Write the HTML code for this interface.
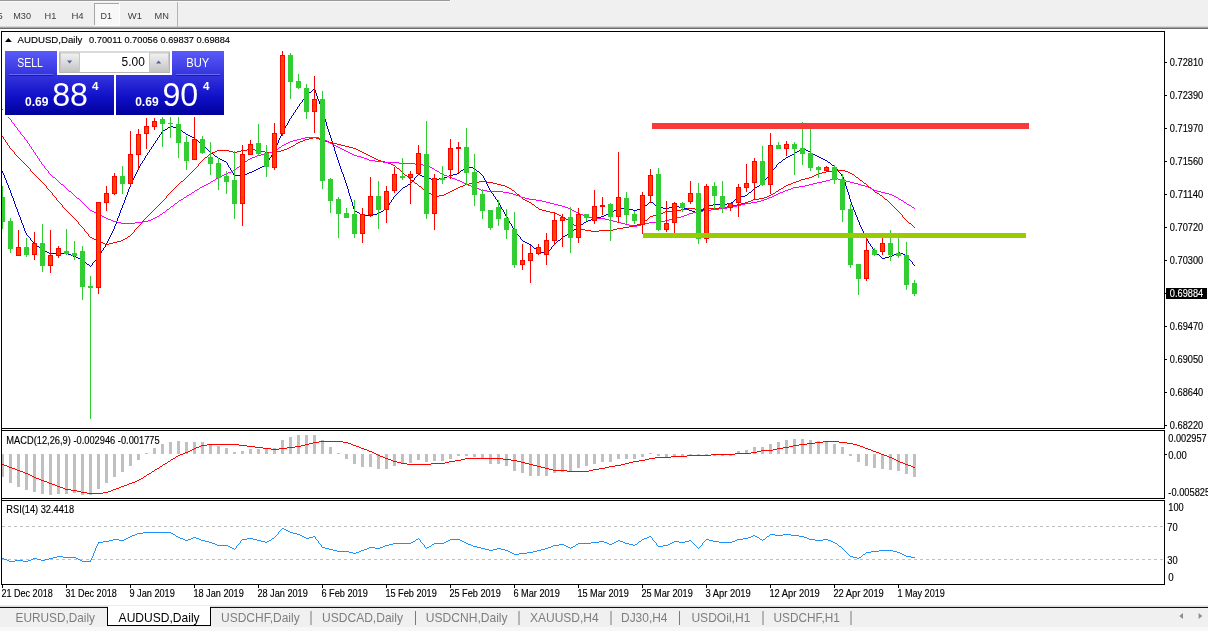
<!DOCTYPE html><html><head><meta charset="utf-8"><title>AUDUSD,Daily</title>
<style>
html,body{margin:0;padding:0;background:#fff;}
body{width:1208px;height:631px;overflow:hidden;position:relative;font-family:"Liberation Sans",sans-serif;}
svg{position:absolute;left:0;top:0;display:block}
text{font-family:"Liberation Sans",sans-serif;}
.ax{font-size:10.2px;fill:#000;stroke:#000;stroke-width:0.15px}
.tb{font-size:9.9px;fill:#3c3c3c}
.tab{font-size:12.6px;fill:#7e7e7e}
</style></head><body>
<svg width="1208" height="631" viewBox="0 0 1208 631">
<rect x="0" y="0" width="1208" height="631" fill="#ffffff"/>
<rect x="0" y="0" width="1208" height="27" fill="#f0f0f0"/>
<rect x="0" y="0" width="450" height="1" fill="#9a9a9a"/><rect x="0" y="1" width="451" height="1" fill="#fafafa"/><rect x="450" y="0" width="1" height="1" fill="#fafafa"/>
<rect x="0" y="26" width="1208" height="1" fill="#d6d6d6"/>
<rect x="0" y="27" width="1208" height="1" fill="#a4a4a4"/>
<rect x="0" y="28" width="1208" height="1" fill="#6c6c6c"/>
<rect x="94" y="3" width="26" height="23" fill="#f8f8f8"/>
<rect x="94" y="3" width="25" height="1" fill="#a6a6a6"/><rect x="94" y="3" width="1" height="22" fill="#a6a6a6"/>
<rect x="119" y="3" width="1" height="23" fill="#fff"/><rect x="94" y="25" width="26" height="1" fill="#fff"/>
<rect x="177" y="2" width="1" height="25" fill="#b4b4b4"/>
<text class="tb" x="-2.6" y="18.7" textLength="5.2" lengthAdjust="spacingAndGlyphs">5</text>
<text class="tb" x="13.3" y="18.7" textLength="17.7" lengthAdjust="spacingAndGlyphs">M30</text>
<text class="tb" x="44.5" y="18.7" textLength="11.8" lengthAdjust="spacingAndGlyphs">H1</text>
<text class="tb" x="71.4" y="18.7" textLength="12.3" lengthAdjust="spacingAndGlyphs">H4</text>
<text class="tb" x="100.4" y="18.7" textLength="11.5" lengthAdjust="spacingAndGlyphs">D1</text>
<text class="tb" x="127.8" y="18.7" textLength="14.2" lengthAdjust="spacingAndGlyphs">W1</text>
<text class="tb" x="154.6" y="18.7" textLength="14.4" lengthAdjust="spacingAndGlyphs">MN</text>
<path d="M2.5 171v2M3.5 173v2M4.5 175v3M5.5 178v2M6.5 180v3M7.5 183v2M8.5 185v3M9.5 188v2M10.5 190v2M10.5 192v1M11.5 193v3M12.5 196v2M13.5 198v3M14.5 201v3M15.5 204v3M16.5 207v2M17.5 209v3M18.5 212v2M18.5 214v1M19.5 215v2M20.5 217v3M21.5 220v3M22.5 223v2M23.5 225v3M24.5 228v3M25.5 231v2M26.5 233v2M27.5 235v1M28.5 236v1M29.5 237v1M30.5 238v2M31.5 240v1M32.5 241v1M33.5 242v1M34.5 243v1M35 244.5h1M36 245.5h1M37 246.5h2M39 247.5h1M40 248.5h1M41 249.5h1M42 250.5h1M43 250.5h1M44 251.5h3M47 252.5h2M49 253.5h2M51 253.5h8M59 253.5h8M67 253.5h1M68 254.5h3M71 255.5h2M73 256.5h2M75 256.5h1M76 257.5h2M78 258.5h2M80 259.5h2M82 260.5h1M83 261.5h2M85 262.5h1M86 263.5h1M87 264.5h2M89 265.5h1M90 266.5h1M91.5 265v1M92.5 263v2M93.5 262v1M94.5 261v1M95.5 260v1M96.5 258v2M97.5 257v1M98.5 256v1M99.5 254v2M100.5 253v1M101.5 251v2M102.5 250v1M103.5 248v2M104.5 247v1M105.5 245v2M106.5 244v1M106.5 243v1M107.5 241v2M108.5 239v2M109.5 237v2M110.5 235v2M111.5 233v2M112.5 231v2M113.5 229v2M114.5 227v2M114.5 226v1M115.5 224v2M116.5 221v3M117.5 218v3M118.5 216v2M119.5 213v3M120.5 210v3M121.5 208v2M122.5 206v2M122.5 205v1M123.5 203v2M124.5 200v3M125.5 197v3M126.5 195v2M127.5 192v3M128.5 189v3M129.5 187v2M130.5 185v2M130.5 184v1M131.5 182v2M132.5 180v2M133.5 178v2M134.5 176v2M135.5 174v2M136.5 172v2M137.5 170v2M138.5 168v2M139.5 166v2M140.5 164v2M141.5 163v1M142.5 161v2M143.5 160v1M144.5 158v2M145.5 156v2M146.5 155v1M147.5 153v2M148.5 152v1M149.5 150v2M150.5 149v1M151.5 147v2M152.5 146v1M153.5 144v2M154.5 143v1M155.5 141v2M156.5 140v1M157.5 138v2M158.5 137v1M159.5 135v2M160.5 134v1M161.5 132v2M162.5 131v1M170 126.5h1M168 127.5h2M167 128.5h1M165 129.5h2M163 130.5h2M171 126.5h2M173 127.5h4M177 128.5h2M179 129.5h2M181 130.5h1M182 131.5h1M183 132.5h2M185 133.5h1M186 134.5h1M187 134.5h1M188 135.5h2M190 136.5h2M192 137.5h2M194 138.5h1M195 139.5h2M197 140.5h1M198 141.5h1M199 142.5h2M201 143.5h1M202 144.5h1M203 145.5h1M204 146.5h1M205 147.5h1M206 148.5h1M207 149.5h1M208 150.5h1M209 151.5h1M210 152.5h1M211 153.5h2M213 154.5h1M214 155.5h1M215 156.5h2M217 157.5h1M218 158.5h1M219 158.5h1M220 159.5h2M222 160.5h2M224 161.5h2M226 162.5h1M227.5 163v2M228.5 165v2M229.5 167v1M230.5 168v2M231.5 170v1M232.5 171v2M233.5 173v2M234.5 175v1M235 175.5h8M249 172.5h2M247 173.5h2M244 174.5h3M243 175.5h1M258 168.5h1M256 169.5h2M254 170.5h2M252 171.5h2M251 172.5h1M266 164.5h1M264 165.5h2M262 166.5h2M260 167.5h2M259 168.5h1M267.5 162v2M268.5 160v2M269.5 158v2M270.5 157v1M271.5 155v2M272.5 153v2M273.5 151v2M274.5 150v1M274.5 149v1M275.5 147v2M276.5 145v2M277.5 143v2M278.5 140v3M279.5 138v2M280.5 136v2M281.5 134v2M282.5 132v2M283.5 130v2M284.5 128v2M285.5 126v2M286.5 125v1M287.5 123v2M288.5 121v2M289.5 119v2M290.5 118v1M291.5 116v2M292.5 115v1M293.5 113v2M294.5 112v1M295.5 110v2M296.5 109v1M297.5 107v2M298.5 106v1M299.5 104v2M300.5 103v1M301.5 102v1M302.5 100v2M303.5 99v1M304.5 98v1M305.5 96v2M306.5 95v1M314 88.5h1M313 89.5h1M312 90.5h1M311 91.5h1M309 92.5h2M308 93.5h1M307 94.5h1M314.5 89v1M315.5 90v3M316.5 93v3M317.5 96v3M318.5 99v2M319.5 101v3M320.5 104v3M321.5 107v3M322.5 110v2M322.5 112v1M323.5 113v3M324.5 116v3M325.5 119v3M326.5 122v4M327.5 126v3M328.5 129v3M329.5 132v3M330.5 135v2M330.5 137v1M331.5 138v3M332.5 141v3M333.5 144v3M334.5 147v4M335.5 151v3M336.5 154v3M337.5 157v3M338.5 160v2M338.5 162v1M339.5 163v3M340.5 166v3M341.5 169v3M342.5 172v2M343.5 174v3M344.5 177v3M345.5 180v3M346.5 183v2M346.5 185v1M347.5 186v3M348.5 189v4M349.5 193v3M350.5 196v3M351.5 199v3M352.5 202v4M353.5 206v3M354.5 209v2M355 211.5h2M357 212.5h2M359 213.5h1M360 214.5h2M362 215.5h1M363 215.5h8M377 213.5h2M373 214.5h4M371 215.5h2M386 208.5h1M384 209.5h2M383 210.5h1M381 211.5h2M379 212.5h2M387.5 206v2M388.5 205v1M389.5 203v2M390.5 202v1M391.5 200v2M392.5 199v1M393.5 197v2M394.5 196v1M402 188.5h1M401 189.5h1M400 190.5h1M399 191.5h1M398 192.5h1M397 193.5h1M396 194.5h1M395 195.5h1M410 183.5h1M408 184.5h2M407 185.5h1M405 186.5h2M403 187.5h2M411.5 182v1M412.5 181v1M413.5 180v1M414.5 178v2M415.5 177v1M416.5 176v1M417.5 175v1M418.5 174v1M419 174.5h1M420 175.5h2M422 176.5h2M424 177.5h2M426 178.5h1M427 178.5h4M431 179.5h4M439 178.5h4M435 179.5h4M449 175.5h2M447 176.5h2M444 177.5h3M443 178.5h1M457 173.5h2M453 174.5h4M451 175.5h2M466 166.5h1M465 167.5h1M464 168.5h1M463 169.5h1M461 170.5h2M460 171.5h1M459 172.5h1M467 166.5h2M469 167.5h4M473 168.5h2M475 169.5h1M476 170.5h1M477 171.5h2M479 172.5h1M480 173.5h1M481 174.5h1M482 175.5h1M483.5 176v2M484.5 178v2M485.5 180v2M486.5 182v2M487.5 184v2M488.5 186v2M489.5 188v2M490.5 190v1M491.5 191v2M492.5 193v1M493.5 194v2M494.5 196v1M495.5 197v2M496.5 199v1M497.5 200v2M498.5 202v1M499.5 203v2M500.5 205v2M501.5 207v2M502.5 209v1M503.5 210v2M504.5 212v2M505.5 214v2M506.5 216v1M507.5 217v2M508.5 219v2M509.5 221v2M510.5 223v1M511.5 224v2M512.5 226v2M513.5 228v2M514.5 230v1M515.5 231v1M516.5 232v2M517.5 234v1M518.5 235v1M519.5 236v1M520.5 237v2M521.5 239v1M522.5 240v1M523 241.5h2M525 242.5h2M527 243.5h2M529 244.5h2M531 245.5h1M532 246.5h1M533 247.5h1M534 248.5h2M536 249.5h1M537 250.5h1M538 251.5h1M539 252.5h1M540 252.5h8M548.5 251v1M549.5 250v1M550.5 249v1M551.5 247v2M552.5 246v1M553.5 245v1M554.5 244v1M555.5 243v1M563 236.5h1M562 237.5h1M561 238.5h1M560 239.5h1M558 240.5h2M557 241.5h1M556 242.5h1M571 232.5h1M569 233.5h2M567 234.5h2M565 235.5h2M564 236.5h1M578 226.5h1M577 227.5h1M576 228.5h1M574 229.5h2M573 230.5h1M572 231.5h1M586 221.5h1M584 222.5h2M583 223.5h1M581 224.5h2M579 225.5h2M593 218.5h2M591 219.5h2M588 220.5h3M587 221.5h1M601 216.5h2M597 217.5h4M595 218.5h2M610 212.5h1M608 213.5h2M606 214.5h2M604 215.5h2M603 216.5h1M618 208.5h1M616 209.5h2M614 210.5h2M612 211.5h2M611 212.5h1M619 208.5h8M627 208.5h2M629 209.5h4M633 210.5h2M641 208.5h2M637 209.5h4M635 210.5h2M650 201.5h1M649 202.5h1M648 203.5h1M647 204.5h1M645 205.5h2M644 206.5h1M643 207.5h1M651 202.5h2M653 203.5h1M654 204.5h1M655 205.5h2M657 206.5h1M658 207.5h1M659 207.5h4M663 208.5h4M673 206.5h2M669 207.5h4M667 208.5h2M675 206.5h4M679 207.5h4M683 207.5h1M684 208.5h3M687 209.5h2M689 210.5h2M691 210.5h1M692 211.5h3M695 212.5h2M697 213.5h2M706 206.5h1M705 207.5h1M704 208.5h1M703 209.5h1M701 210.5h2M700 211.5h1M699 212.5h1M713 204.5h2M709 205.5h4M707 206.5h2M715 204.5h8M727 203.5h4M723 204.5h4M738 197.5h1M737 198.5h1M735 199.5h2M734 200.5h1M733 201.5h1M731 202.5h2M745 195.5h2M741 196.5h4M739 197.5h2M754 188.5h1M753 189.5h1M752 190.5h1M751 191.5h1M749 192.5h2M748 193.5h1M747 194.5h1M762 183.5h1M760 184.5h2M759 185.5h1M757 186.5h2M755 187.5h2M763.5 182v1M764.5 180v2M765.5 179v1M766.5 178v1M767.5 177v1M768.5 175v2M769.5 174v1M770.5 173v1M771.5 172v1M772.5 170v2M773.5 169v1M774.5 168v1M775.5 167v1M776.5 165v2M777.5 164v1M778.5 163v1M786 157.5h1M785 158.5h1M783 159.5h2M782 160.5h1M781 161.5h1M779 162.5h2M794 153.5h1M792 154.5h2M790 155.5h2M788 156.5h2M787 157.5h1M802 148.5h1M800 149.5h2M799 150.5h1M797 151.5h2M795 152.5h2M803 148.5h1M804 149.5h2M806 150.5h2M808 151.5h2M810 152.5h1M811 153.5h2M813 154.5h2M815 155.5h2M817 156.5h2M819 157.5h1M820 157.5h1M821 158.5h2M823 159.5h2M825 160.5h2M827 161.5h1M828 162.5h2M830 163.5h1M831 164.5h1M832 165.5h2M834 166.5h1M835 167.5h1M836.5 168v1M837.5 169v2M838.5 171v1M839.5 172v1M840.5 173v1M841.5 174v2M842.5 176v1M843.5 177v1M843.5 178v1M844.5 179v3M845.5 182v4M846.5 186v3M847.5 189v3M848.5 192v3M849.5 195v4M850.5 199v3M851.5 202v2M851.5 204v1M852.5 205v2M853.5 207v3M854.5 210v2M855.5 212v3M856.5 215v2M857.5 217v3M858.5 220v2M859.5 222v2M859.5 224v1M860.5 225v2M861.5 227v2M862.5 229v2M863.5 231v2M864.5 233v2M865.5 235v2M866.5 237v2M867.5 239v2M868.5 241v2M869.5 243v1M870.5 244v2M871.5 246v1M872.5 247v2M873.5 249v2M874.5 251v1M875 252.5h1M876 253.5h1M877 254.5h2M879 255.5h1M880 256.5h1M881 257.5h1M882 258.5h1M889 256.5h2M885 257.5h4M883 258.5h2M898 252.5h1M896 253.5h2M894 254.5h2M892 255.5h2M891 256.5h1M899 252.5h1M900 253.5h3M903 254.5h2M905 255.5h2M907.5 256v1M908.5 257v2M909.5 259v1M910.5 260v1M911.5 261v1M912.5 262v2M913.5 264v1M914.5 265v1" fill="none" stroke="#0000cd" stroke-width="1" shape-rendering="crispEdges"/>
<path d="M2.5 136v1M3.5 137v2M4.5 139v1M5.5 140v2M6.5 142v1M7.5 143v2M8.5 145v1M9.5 146v2M10.5 148v1M11.5 149v1M12.5 150v1M13.5 151v1M14.5 152v2M15.5 154v1M16.5 155v1M17.5 156v1M18.5 157v1M19 158.5h1M20 159.5h1M21 160.5h1M22 161.5h1M23 162.5h1M24 163.5h1M25 164.5h1M26 165.5h1M27.5 166v1M28.5 167v1M29.5 168v1M30.5 169v2M31.5 171v1M32.5 172v1M33.5 173v1M34.5 174v1M35 175.5h1M36 176.5h1M37 177.5h1M38 178.5h1M39 179.5h1M40 180.5h1M41 181.5h1M42 182.5h1M43.5 183v1M44.5 184v1M45.5 185v1M46.5 186v2M47.5 188v1M48.5 189v1M49.5 190v1M50.5 191v1M51.5 192v1M52.5 193v2M53.5 195v1M54.5 196v1M55.5 197v1M56.5 198v2M57.5 200v1M58.5 201v1M59.5 202v1M60.5 203v1M61.5 204v1M62.5 205v2M63.5 207v1M64.5 208v1M65.5 209v1M66.5 210v1M67 211.5h1M68 212.5h1M69 213.5h1M70 214.5h1M71 215.5h1M72 216.5h1M73 217.5h1M74 218.5h1M75.5 219v1M76.5 220v1M77.5 221v1M78.5 222v2M79.5 224v1M80.5 225v1M81.5 226v1M82.5 227v1M83.5 228v1M84.5 229v2M85.5 231v1M86.5 232v1M87.5 233v1M88.5 234v2M89.5 236v1M90.5 237v1M91 237.5h1M92 238.5h2M94 239.5h2M96 240.5h2M98 241.5h1M99 241.5h1M100 242.5h3M103 243.5h2M105 244.5h2M113 242.5h2M109 243.5h4M107 244.5h2M121 240.5h2M117 241.5h4M115 242.5h2M130 235.5h1M128 236.5h2M127 237.5h1M125 238.5h2M123 239.5h2M131.5 234v1M132.5 233v1M133.5 232v1M134.5 230v2M135.5 229v1M136.5 228v1M137.5 227v1M138.5 226v1M139.5 225v1M140.5 224v1M141.5 223v1M142.5 221v2M143.5 220v1M144.5 219v1M145.5 218v1M146.5 217v1M154 209.5h1M153 210.5h1M152 211.5h1M151 212.5h1M150 213.5h1M149 214.5h1M148 215.5h1M147 216.5h1M162 201.5h1M161 202.5h1M160 203.5h1M159 204.5h1M158 205.5h1M157 206.5h1M156 207.5h1M155 208.5h1M163.5 200v1M164.5 199v1M165.5 198v1M166.5 196v2M167.5 195v1M168.5 194v1M169.5 193v1M170.5 192v1M178 184.5h1M177 185.5h1M176 186.5h1M175 187.5h1M174 188.5h1M173 189.5h1M172 190.5h1M171 191.5h1M186 177.5h1M185 178.5h1M184 179.5h1M183 180.5h1M181 181.5h2M180 182.5h1M179 183.5h1M194 169.5h1M193 170.5h1M192 171.5h1M191 172.5h1M190 173.5h1M189 174.5h1M188 175.5h1M187 176.5h1M195.5 168v1M196.5 167v1M197.5 166v1M198.5 164v2M199.5 163v1M200.5 162v1M201.5 161v1M202.5 160v1M210 153.5h1M209 154.5h1M208 155.5h1M207 156.5h1M205 157.5h2M204 158.5h1M203 159.5h1M217 150.5h2M215 151.5h2M212 152.5h3M211 153.5h1M219 150.5h8M227 150.5h2M229 151.5h4M233 152.5h2M241 150.5h2M237 151.5h4M235 152.5h2M247 149.5h4M243 150.5h4M251 149.5h4M255 150.5h4M259 150.5h2M261 151.5h4M265 152.5h2M267 152.5h8M281 150.5h2M277 151.5h4M275 152.5h2M289 147.5h2M287 148.5h2M284 149.5h3M283 150.5h1M298 142.5h1M296 143.5h2M295 144.5h1M293 145.5h2M291 146.5h2M305 139.5h2M303 140.5h2M300 141.5h3M299 142.5h1M313 137.5h2M309 138.5h4M307 139.5h2M315 137.5h1M316 138.5h3M319 139.5h2M321 140.5h2M323 140.5h2M325 141.5h4M329 142.5h2M331 142.5h2M333 143.5h4M337 144.5h2M339 144.5h2M341 145.5h4M345 146.5h2M347 146.5h2M349 147.5h4M353 148.5h2M355 148.5h1M356 149.5h2M358 150.5h2M360 151.5h2M362 152.5h1M363 152.5h1M364 153.5h2M366 154.5h2M368 155.5h2M370 156.5h1M371 156.5h1M372 157.5h2M374 158.5h2M376 159.5h2M378 160.5h1M379 160.5h2M381 161.5h4M385 162.5h2M387 162.5h1M388 163.5h3M391 164.5h2M393 165.5h2M395 166.5h1M396 167.5h1M397 168.5h2M399 169.5h1M400 170.5h1M401 171.5h1M402 172.5h1M403 173.5h1M404 174.5h1M405 175.5h2M407 176.5h1M408 177.5h1M409 178.5h1M410 179.5h1M411 180.5h2M413 181.5h1M414 182.5h1M415 183.5h2M417 184.5h1M418 185.5h1M419 186.5h2M421 187.5h1M422 188.5h1M423 189.5h2M425 190.5h1M426 191.5h1M427 192.5h2M429 193.5h2M431 194.5h1M432 195.5h2M434 196.5h1M439 195.5h4M435 196.5h4M450 191.5h1M448 192.5h2M446 193.5h2M444 194.5h2M443 195.5h1M458 187.5h1M456 188.5h2M454 189.5h2M452 190.5h2M451 191.5h1M465 184.5h2M463 185.5h2M460 186.5h3M459 187.5h1M473 182.5h2M469 183.5h4M467 184.5h2M479 181.5h4M475 182.5h4M483 181.5h4M487 182.5h4M491 182.5h2M493 183.5h4M497 184.5h2M499 184.5h2M501 185.5h4M505 186.5h2M507 187.5h2M509 188.5h2M511 189.5h1M512 190.5h2M514 191.5h1M515 192.5h1M516 193.5h1M517 194.5h2M519 195.5h1M520 196.5h1M521 197.5h1M522 198.5h1M523 199.5h2M525 200.5h2M527 201.5h2M529 202.5h2M531 203.5h1M532 204.5h2M534 205.5h1M535 206.5h1M536 207.5h2M538 208.5h1M539 209.5h1M540 209.5h2M542 210.5h4M546 211.5h2M548 211.5h2M550 212.5h4M554 213.5h2M556 213.5h1M557 214.5h2M559 215.5h2M561 216.5h2M563 217.5h1M564 218.5h2M566 219.5h2M568 220.5h1M569 221.5h2M571 222.5h1M572 223.5h1M573 224.5h1M574 225.5h2M576 226.5h1M577 227.5h1M578 228.5h1M579 228.5h2M581 229.5h4M585 230.5h2M587 230.5h4M591 231.5h4M599 230.5h4M595 231.5h4M603 230.5h8M617 228.5h2M613 229.5h4M611 230.5h2M623 227.5h4M619 228.5h4M633 225.5h2M629 226.5h4M627 227.5h2M641 223.5h2M637 224.5h4M635 225.5h2M650 216.5h1M649 217.5h1M648 218.5h1M647 219.5h1M645 220.5h2M644 221.5h1M643 222.5h1M657 214.5h2M653 215.5h4M651 216.5h2M665 211.5h2M663 212.5h2M660 213.5h3M659 214.5h1M667 211.5h8M681 209.5h2M677 210.5h4M675 211.5h2M687 208.5h4M683 209.5h4M691 208.5h4M695 209.5h4M703 208.5h4M699 209.5h4M707 208.5h8M719 207.5h4M715 208.5h4M727 206.5h4M723 207.5h4M737 204.5h2M733 205.5h4M731 206.5h2M745 202.5h2M741 203.5h4M739 204.5h2M753 199.5h2M751 200.5h2M748 201.5h3M747 202.5h1M759 198.5h4M755 199.5h4M769 195.5h2M767 196.5h2M764 197.5h3M763 198.5h1M778 190.5h1M776 191.5h2M775 192.5h1M773 193.5h2M771 194.5h2M786 185.5h1M784 186.5h2M783 187.5h1M781 188.5h2M779 189.5h2M793 182.5h2M791 183.5h2M788 184.5h3M787 185.5h1M801 179.5h2M799 180.5h2M796 181.5h3M795 182.5h1M809 177.5h2M805 178.5h4M803 179.5h2M818 173.5h2M816 174.5h2M814 175.5h2M812 176.5h2M811 177.5h1M826 171.5h2M822 172.5h4M820 173.5h2M832 170.5h4M828 171.5h4M836 170.5h8M844 170.5h1M845 171.5h3M848 172.5h2M850 173.5h2M852 174.5h2M854 175.5h1M855 176.5h1M856 177.5h2M858 178.5h1M859 179.5h1M860 180.5h2M862 181.5h1M863 182.5h1M864 183.5h2M866 184.5h1M867 185.5h1M868 186.5h1M869 187.5h2M871 188.5h1M872 189.5h1M873 190.5h1M874 191.5h1M875 192.5h2M877 193.5h2M879 194.5h1M880 195.5h2M882 196.5h1M883 197.5h1M884 198.5h1M885 199.5h2M887 200.5h1M888 201.5h1M889 202.5h1M890 203.5h1M891 204.5h1M892 205.5h1M893 206.5h1M894 207.5h1M895 208.5h1M896 209.5h1M897 210.5h1M898 211.5h1M899.5 212v1M900.5 213v1M901.5 214v1M902.5 215v2M903.5 217v1M904.5 218v1M905.5 219v1M906.5 220v1M907 221.5h1M908 222.5h1M909 223.5h2M911 224.5h1M912 225.5h1M913 226.5h1M914 227.5h1" fill="none" stroke="#ff0000" stroke-width="1" shape-rendering="crispEdges"/>
<path d="M2.5 109v1M3.5 110v1M4.5 111v2M5.5 113v1M6.5 114v1M7.5 115v1M8.5 116v2M9.5 118v1M10.5 119v1M11.5 120v2M12.5 122v1M13.5 123v1M14.5 124v2M15.5 126v1M16.5 127v1M17.5 128v2M18.5 130v1M19.5 131v1M20.5 132v2M21.5 134v1M22.5 135v1M23.5 136v1M24.5 137v2M25.5 139v1M26.5 140v1M27.5 141v2M28.5 143v1M29.5 144v2M30.5 146v1M31.5 147v2M32.5 149v1M33.5 150v2M34.5 152v1M35.5 153v2M36.5 155v1M37.5 156v2M38.5 158v1M39.5 159v2M40.5 161v1M41.5 162v2M42.5 164v1M43.5 165v1M44.5 166v2M45.5 168v1M46.5 169v1M47.5 170v1M48.5 171v2M49.5 173v1M50.5 174v1M51 175.5h1M52 176.5h1M53 177.5h2M55 178.5h1M56 179.5h1M57 180.5h1M58 181.5h1M59 182.5h1M60 183.5h1M61 184.5h2M63 185.5h1M64 186.5h1M65 187.5h1M66 188.5h1M67 189.5h1M68 190.5h1M69 191.5h2M71 192.5h1M72 193.5h1M73 194.5h1M74 195.5h1M75 196.5h1M76 197.5h1M77 198.5h2M79 199.5h1M80 200.5h1M81 201.5h1M82 202.5h1M83 203.5h1M84 204.5h1M85 205.5h1M86 206.5h1M87 207.5h1M88 208.5h1M89 209.5h1M90 210.5h1M91 210.5h1M92 211.5h2M94 212.5h2M96 213.5h2M98 214.5h1M99 214.5h1M100 215.5h2M102 216.5h2M104 217.5h2M106 218.5h1M107 218.5h1M108 219.5h3M111 220.5h2M113 221.5h2M115 221.5h2M117 222.5h4M121 223.5h2M123 223.5h8M135 222.5h4M131 223.5h4M143 221.5h4M139 222.5h4M153 218.5h2M151 219.5h2M148 220.5h3M147 221.5h1M162 213.5h1M160 214.5h2M159 215.5h1M157 216.5h2M155 217.5h2M170 207.5h1M169 208.5h1M167 209.5h2M166 210.5h1M165 211.5h1M163 212.5h2M178 201.5h1M177 202.5h1M175 203.5h2M174 204.5h1M173 205.5h1M171 206.5h2M186 196.5h1M184 197.5h2M183 198.5h1M181 199.5h2M179 200.5h2M194 191.5h1M192 192.5h2M191 193.5h1M189 194.5h2M187 195.5h2M202 186.5h1M200 187.5h2M199 188.5h1M197 189.5h2M195 190.5h2M210 182.5h1M208 183.5h2M206 184.5h2M204 185.5h2M203 186.5h1M218 177.5h1M216 178.5h2M215 179.5h1M213 180.5h2M211 181.5h2M226 173.5h1M224 174.5h2M222 175.5h2M220 176.5h2M219 177.5h1M233 170.5h2M231 171.5h2M228 172.5h3M227 173.5h1M242 163.5h1M241 164.5h1M240 165.5h1M239 166.5h1M237 167.5h2M236 168.5h1M235 169.5h1M250 158.5h1M248 159.5h2M247 160.5h1M245 161.5h2M243 162.5h2M257 155.5h2M255 156.5h2M252 157.5h3M251 158.5h1M265 153.5h2M261 154.5h4M259 155.5h2M273 151.5h2M269 152.5h4M267 153.5h2M282 145.5h1M281 146.5h1M279 147.5h2M278 148.5h1M277 149.5h1M275 150.5h2M290 141.5h1M288 142.5h2M286 143.5h2M284 144.5h2M283 145.5h1M297 139.5h2M293 140.5h4M291 141.5h2M305 137.5h2M301 138.5h4M299 139.5h2M307 137.5h8M315 137.5h4M319 138.5h4M323 139.5h2M325 140.5h2M327 141.5h1M328 142.5h2M330 143.5h1M331 143.5h1M332 144.5h2M334 145.5h2M336 146.5h2M338 147.5h1M339 147.5h1M340 148.5h2M342 149.5h2M344 150.5h2M346 151.5h1M347 151.5h1M348 152.5h2M350 153.5h2M352 154.5h2M354 155.5h1M355 155.5h2M357 156.5h4M361 157.5h2M363 157.5h1M364 158.5h3M367 159.5h2M369 160.5h2M371 160.5h4M375 161.5h4M379 161.5h4M383 162.5h4M387 162.5h8M395 162.5h4M399 163.5h4M403 163.5h8M411 163.5h4M415 164.5h4M419 164.5h4M423 165.5h4M427 165.5h1M428 166.5h2M430 167.5h2M432 168.5h2M434 169.5h1M435 170.5h2M437 171.5h2M439 172.5h1M440 173.5h2M442 174.5h1M443 174.5h1M444 175.5h3M447 176.5h2M449 177.5h2M451 177.5h1M452 178.5h3M455 179.5h2M457 180.5h2M459 180.5h1M460 181.5h2M462 182.5h2M464 183.5h2M466 184.5h1M467 184.5h1M468 185.5h3M471 186.5h2M473 187.5h2M475 187.5h1M476 188.5h3M479 189.5h2M481 190.5h2M483 190.5h4M487 191.5h4M491 191.5h8M499 191.5h4M503 192.5h4M507 192.5h2M509 193.5h4M513 194.5h2M515 194.5h1M516 195.5h3M519 196.5h2M521 197.5h2M523 197.5h2M525 198.5h4M529 199.5h3M532 199.5h4M536 200.5h4M540 200.5h2M542 201.5h4M546 202.5h2M548 202.5h2M550 203.5h4M554 204.5h2M556 204.5h2M558 205.5h4M562 206.5h2M564 206.5h1M565 207.5h3M568 208.5h2M570 209.5h2M572 210.5h2M574 211.5h2M576 212.5h2M578 213.5h1M579 213.5h1M580 214.5h3M583 215.5h2M585 216.5h2M587 216.5h2M589 217.5h4M593 218.5h2M595 218.5h8M603 218.5h2M605 219.5h4M609 220.5h2M611 220.5h2M613 221.5h4M617 222.5h2M619 222.5h2M621 223.5h4M625 224.5h2M627 224.5h2M629 225.5h4M633 226.5h2M641 224.5h2M637 225.5h4M635 226.5h2M649 222.5h2M645 223.5h4M643 224.5h2M651 222.5h8M665 220.5h2M661 221.5h4M659 222.5h2M673 218.5h2M669 219.5h4M667 220.5h2M681 216.5h2M677 217.5h4M675 218.5h2M689 213.5h2M687 214.5h2M684 215.5h3M683 216.5h1M697 211.5h2M693 212.5h4M691 213.5h2M703 210.5h4M699 211.5h4M711 209.5h4M707 210.5h4M719 208.5h4M715 209.5h4M727 207.5h4M723 208.5h4M737 205.5h2M733 206.5h4M731 207.5h2M745 203.5h2M741 204.5h4M739 205.5h2M751 202.5h4M747 203.5h4M761 200.5h2M757 201.5h4M755 202.5h2M769 197.5h2M767 198.5h2M764 199.5h3M763 200.5h1M778 193.5h1M776 194.5h2M774 195.5h2M772 196.5h2M771 197.5h1M785 190.5h2M783 191.5h2M780 192.5h3M779 193.5h1M793 187.5h2M791 188.5h2M788 189.5h3M787 190.5h1M799 186.5h4M795 187.5h4M809 184.5h2M805 185.5h4M803 186.5h2M817 182.5h3M813 183.5h4M811 184.5h2M826 180.5h2M822 181.5h4M820 182.5h2M834 178.5h2M830 179.5h4M828 180.5h2M836 178.5h2M838 179.5h4M842 180.5h2M844 180.5h2M846 181.5h4M850 182.5h2M852 182.5h2M854 183.5h4M858 184.5h2M860 184.5h1M861 185.5h4M865 186.5h2M867 186.5h1M868 187.5h2M870 188.5h2M872 189.5h2M874 190.5h1M875 190.5h2M877 191.5h4M881 192.5h2M883 192.5h2M885 193.5h4M889 194.5h2M891 194.5h1M892 195.5h2M894 196.5h2M896 197.5h2M898 198.5h1M899 199.5h2M901 200.5h2M903 201.5h1M904 202.5h2M906 203.5h1M907 204.5h2M909 205.5h2M911 206.5h1M912 207.5h2M914 208.5h1" fill="none" stroke="#ff00ff" stroke-width="1" shape-rendering="crispEdges"/>
<g shape-rendering="crispEdges">
<rect x="2" y="186" width="1" height="43" fill="#32cd32"/>
<rect x="0" y="197" width="5" height="25" fill="#32cd32"/>
<rect x="10" y="218" width="1" height="35" fill="#32cd32"/>
<rect x="8" y="221" width="5" height="28" fill="#32cd32"/>
<rect x="18" y="230" width="1" height="26" fill="#ff0000"/>
<rect x="16" y="247" width="5" height="9" fill="#ff0000"/>
<rect x="17" y="248" width="3" height="7" fill="#ff4500"/>
<rect x="26" y="238" width="1" height="19" fill="#32cd32"/>
<rect x="24" y="247" width="5" height="8" fill="#32cd32"/>
<rect x="34" y="232" width="1" height="28" fill="#ff0000"/>
<rect x="32" y="243" width="5" height="12" fill="#ff0000"/>
<rect x="33" y="244" width="3" height="10" fill="#ff4500"/>
<rect x="42" y="224" width="1" height="48" fill="#32cd32"/>
<rect x="40" y="243" width="5" height="23" fill="#32cd32"/>
<rect x="50" y="230" width="1" height="43" fill="#ff0000"/>
<rect x="48" y="255" width="5" height="11" fill="#ff0000"/>
<rect x="49" y="256" width="3" height="9" fill="#ff4500"/>
<rect x="58" y="246" width="1" height="12" fill="#ff0000"/>
<rect x="56" y="248" width="5" height="8" fill="#ff0000"/>
<rect x="57" y="249" width="3" height="6" fill="#ff4500"/>
<rect x="66" y="229" width="1" height="26" fill="#32cd32"/>
<rect x="64" y="251" width="5" height="3" fill="#32cd32"/>
<rect x="74" y="241" width="1" height="19" fill="#32cd32"/>
<rect x="72" y="253" width="5" height="3" fill="#32cd32"/>
<rect x="82" y="246" width="1" height="54" fill="#32cd32"/>
<rect x="80" y="251" width="5" height="36" fill="#32cd32"/>
<rect x="90" y="276" width="1" height="143" fill="#32cd32"/>
<rect x="88" y="286" width="5" height="2" fill="#32cd32"/>
<rect x="98" y="202" width="1" height="92" fill="#ff0000"/>
<rect x="96" y="202" width="5" height="86" fill="#ff0000"/>
<rect x="97" y="203" width="3" height="84" fill="#ff4500"/>
<rect x="106" y="186" width="1" height="25" fill="#ff0000"/>
<rect x="104" y="193" width="5" height="10" fill="#ff0000"/>
<rect x="105" y="194" width="3" height="8" fill="#ff4500"/>
<rect x="114" y="173" width="1" height="22" fill="#ff0000"/>
<rect x="112" y="176" width="5" height="18" fill="#ff0000"/>
<rect x="113" y="177" width="3" height="16" fill="#ff4500"/>
<rect x="122" y="166" width="1" height="28" fill="#32cd32"/>
<rect x="120" y="176" width="5" height="8" fill="#32cd32"/>
<rect x="130" y="131" width="1" height="55" fill="#ff0000"/>
<rect x="128" y="154" width="5" height="30" fill="#ff0000"/>
<rect x="129" y="155" width="3" height="28" fill="#ff4500"/>
<rect x="138" y="129" width="1" height="40" fill="#ff0000"/>
<rect x="136" y="134" width="5" height="21" fill="#ff0000"/>
<rect x="137" y="135" width="3" height="19" fill="#ff4500"/>
<rect x="146" y="118" width="1" height="31" fill="#ff0000"/>
<rect x="144" y="126" width="5" height="8" fill="#ff0000"/>
<rect x="145" y="127" width="3" height="6" fill="#ff4500"/>
<rect x="154" y="118" width="1" height="12" fill="#ff0000"/>
<rect x="152" y="121" width="5" height="6" fill="#ff0000"/>
<rect x="153" y="122" width="3" height="4" fill="#ff4500"/>
<rect x="162" y="117" width="1" height="30" fill="#32cd32"/>
<rect x="160" y="119" width="5" height="5" fill="#32cd32"/>
<rect x="170" y="117" width="1" height="21" fill="#32cd32"/>
<rect x="168" y="123" width="5" height="1" fill="#32cd32"/>
<rect x="178" y="117" width="1" height="41" fill="#32cd32"/>
<rect x="176" y="124" width="5" height="19" fill="#32cd32"/>
<rect x="186" y="136" width="1" height="34" fill="#32cd32"/>
<rect x="184" y="142" width="5" height="19" fill="#32cd32"/>
<rect x="194" y="117" width="1" height="43" fill="#ff0000"/>
<rect x="192" y="139" width="5" height="21" fill="#ff0000"/>
<rect x="193" y="140" width="3" height="19" fill="#ff4500"/>
<rect x="202" y="136" width="1" height="18" fill="#32cd32"/>
<rect x="200" y="139" width="5" height="14" fill="#32cd32"/>
<rect x="210" y="142" width="1" height="33" fill="#32cd32"/>
<rect x="208" y="157" width="5" height="7" fill="#32cd32"/>
<rect x="218" y="158" width="1" height="32" fill="#32cd32"/>
<rect x="216" y="163" width="5" height="15" fill="#32cd32"/>
<rect x="226" y="171" width="1" height="23" fill="#32cd32"/>
<rect x="224" y="176" width="5" height="6" fill="#32cd32"/>
<rect x="234" y="151" width="1" height="68" fill="#32cd32"/>
<rect x="232" y="180" width="5" height="24" fill="#32cd32"/>
<rect x="242" y="145" width="1" height="81" fill="#ff0000"/>
<rect x="240" y="154" width="5" height="50" fill="#ff0000"/>
<rect x="241" y="155" width="3" height="48" fill="#ff4500"/>
<rect x="250" y="140" width="1" height="15" fill="#ff0000"/>
<rect x="248" y="144" width="5" height="11" fill="#ff0000"/>
<rect x="249" y="145" width="3" height="9" fill="#ff4500"/>
<rect x="258" y="124" width="1" height="32" fill="#32cd32"/>
<rect x="256" y="143" width="5" height="11" fill="#32cd32"/>
<rect x="266" y="145" width="1" height="32" fill="#32cd32"/>
<rect x="264" y="153" width="5" height="14" fill="#32cd32"/>
<rect x="274" y="123" width="1" height="47" fill="#ff0000"/>
<rect x="272" y="133" width="5" height="35" fill="#ff0000"/>
<rect x="273" y="134" width="3" height="33" fill="#ff4500"/>
<rect x="282" y="51" width="1" height="85" fill="#ff0000"/>
<rect x="280" y="55" width="5" height="79" fill="#ff0000"/>
<rect x="281" y="56" width="3" height="77" fill="#ff4500"/>
<rect x="290" y="53" width="1" height="46" fill="#32cd32"/>
<rect x="288" y="55" width="5" height="27" fill="#32cd32"/>
<rect x="298" y="74" width="1" height="15" fill="#32cd32"/>
<rect x="296" y="81" width="5" height="7" fill="#32cd32"/>
<rect x="306" y="84" width="1" height="35" fill="#32cd32"/>
<rect x="304" y="88" width="5" height="24" fill="#32cd32"/>
<rect x="314" y="76" width="1" height="57" fill="#ff0000"/>
<rect x="312" y="99" width="5" height="13" fill="#ff0000"/>
<rect x="313" y="100" width="3" height="11" fill="#ff4500"/>
<rect x="322" y="91" width="1" height="98" fill="#32cd32"/>
<rect x="320" y="99" width="5" height="82" fill="#32cd32"/>
<rect x="330" y="178" width="1" height="35" fill="#32cd32"/>
<rect x="328" y="179" width="5" height="22" fill="#32cd32"/>
<rect x="338" y="197" width="1" height="41" fill="#32cd32"/>
<rect x="336" y="199" width="5" height="15" fill="#32cd32"/>
<rect x="346" y="208" width="1" height="10" fill="#32cd32"/>
<rect x="344" y="213" width="5" height="5" fill="#32cd32"/>
<rect x="354" y="200" width="1" height="38" fill="#32cd32"/>
<rect x="352" y="214" width="5" height="20" fill="#32cd32"/>
<rect x="362" y="208" width="1" height="35" fill="#ff0000"/>
<rect x="360" y="214" width="5" height="20" fill="#ff0000"/>
<rect x="361" y="215" width="3" height="18" fill="#ff4500"/>
<rect x="370" y="177" width="1" height="40" fill="#ff0000"/>
<rect x="368" y="196" width="5" height="19" fill="#ff0000"/>
<rect x="369" y="197" width="3" height="17" fill="#ff4500"/>
<rect x="378" y="181" width="1" height="48" fill="#32cd32"/>
<rect x="376" y="196" width="5" height="14" fill="#32cd32"/>
<rect x="386" y="186" width="1" height="37" fill="#ff0000"/>
<rect x="384" y="191" width="5" height="19" fill="#ff0000"/>
<rect x="385" y="192" width="3" height="17" fill="#ff4500"/>
<rect x="394" y="167" width="1" height="26" fill="#ff0000"/>
<rect x="392" y="174" width="5" height="17" fill="#ff0000"/>
<rect x="393" y="175" width="3" height="15" fill="#ff4500"/>
<rect x="402" y="158" width="1" height="22" fill="#32cd32"/>
<rect x="400" y="176" width="5" height="2" fill="#32cd32"/>
<rect x="410" y="171" width="1" height="33" fill="#ff0000"/>
<rect x="408" y="174" width="5" height="4" fill="#ff0000"/>
<rect x="409" y="175" width="3" height="2" fill="#ff4500"/>
<rect x="418" y="145" width="1" height="30" fill="#ff0000"/>
<rect x="416" y="153" width="5" height="21" fill="#ff0000"/>
<rect x="417" y="154" width="3" height="19" fill="#ff4500"/>
<rect x="426" y="121" width="1" height="98" fill="#32cd32"/>
<rect x="424" y="154" width="5" height="60" fill="#32cd32"/>
<rect x="434" y="174" width="1" height="56" fill="#ff0000"/>
<rect x="432" y="178" width="5" height="36" fill="#ff0000"/>
<rect x="433" y="179" width="3" height="34" fill="#ff4500"/>
<rect x="442" y="166" width="1" height="18" fill="#32cd32"/>
<rect x="440" y="178" width="5" height="2" fill="#32cd32"/>
<rect x="450" y="139" width="1" height="40" fill="#ff0000"/>
<rect x="448" y="148" width="5" height="22" fill="#ff0000"/>
<rect x="449" y="149" width="3" height="20" fill="#ff4500"/>
<rect x="458" y="142" width="1" height="31" fill="#ff0000"/>
<rect x="456" y="147" width="5" height="2" fill="#ff0000"/>
<rect x="466" y="128" width="1" height="57" fill="#32cd32"/>
<rect x="464" y="147" width="5" height="26" fill="#32cd32"/>
<rect x="474" y="154" width="1" height="52" fill="#32cd32"/>
<rect x="472" y="172" width="5" height="23" fill="#32cd32"/>
<rect x="482" y="189" width="1" height="30" fill="#32cd32"/>
<rect x="480" y="194" width="5" height="17" fill="#32cd32"/>
<rect x="490" y="210" width="1" height="20" fill="#32cd32"/>
<rect x="488" y="210" width="5" height="18" fill="#32cd32"/>
<rect x="498" y="200" width="1" height="26" fill="#32cd32"/>
<rect x="496" y="207" width="5" height="12" fill="#32cd32"/>
<rect x="506" y="209" width="1" height="30" fill="#32cd32"/>
<rect x="504" y="218" width="5" height="12" fill="#32cd32"/>
<rect x="514" y="212" width="1" height="56" fill="#32cd32"/>
<rect x="512" y="229" width="5" height="36" fill="#32cd32"/>
<rect x="522" y="244" width="1" height="26" fill="#ff0000"/>
<rect x="520" y="260" width="5" height="5" fill="#ff0000"/>
<rect x="521" y="261" width="3" height="3" fill="#ff4500"/>
<rect x="530" y="245" width="1" height="38" fill="#ff0000"/>
<rect x="528" y="253" width="5" height="8" fill="#ff0000"/>
<rect x="529" y="254" width="3" height="6" fill="#ff4500"/>
<rect x="538" y="244" width="1" height="11" fill="#ff0000"/>
<rect x="536" y="247" width="5" height="7" fill="#ff0000"/>
<rect x="537" y="248" width="3" height="5" fill="#ff4500"/>
<rect x="546" y="233" width="1" height="32" fill="#ff0000"/>
<rect x="544" y="240" width="5" height="15" fill="#ff0000"/>
<rect x="545" y="241" width="3" height="13" fill="#ff4500"/>
<rect x="554" y="212" width="1" height="33" fill="#ff0000"/>
<rect x="552" y="220" width="5" height="21" fill="#ff0000"/>
<rect x="553" y="221" width="3" height="19" fill="#ff4500"/>
<rect x="562" y="214" width="1" height="33" fill="#ff0000"/>
<rect x="560" y="217" width="5" height="4" fill="#ff0000"/>
<rect x="561" y="218" width="3" height="2" fill="#ff4500"/>
<rect x="570" y="207" width="1" height="46" fill="#32cd32"/>
<rect x="568" y="217" width="5" height="21" fill="#32cd32"/>
<rect x="578" y="208" width="1" height="35" fill="#ff0000"/>
<rect x="576" y="214" width="5" height="24" fill="#ff0000"/>
<rect x="577" y="215" width="3" height="22" fill="#ff4500"/>
<rect x="586" y="214" width="1" height="7" fill="#32cd32"/>
<rect x="584" y="214" width="5" height="4" fill="#32cd32"/>
<rect x="594" y="190" width="1" height="34" fill="#ff0000"/>
<rect x="592" y="206" width="5" height="15" fill="#ff0000"/>
<rect x="593" y="207" width="3" height="13" fill="#ff4500"/>
<rect x="602" y="197" width="1" height="18" fill="#ff0000"/>
<rect x="600" y="205" width="5" height="2" fill="#ff0000"/>
<rect x="610" y="203" width="1" height="38" fill="#32cd32"/>
<rect x="608" y="204" width="5" height="13" fill="#32cd32"/>
<rect x="618" y="152" width="1" height="71" fill="#ff0000"/>
<rect x="616" y="197" width="5" height="20" fill="#ff0000"/>
<rect x="617" y="198" width="3" height="18" fill="#ff4500"/>
<rect x="626" y="192" width="1" height="32" fill="#32cd32"/>
<rect x="624" y="198" width="5" height="17" fill="#32cd32"/>
<rect x="634" y="211" width="1" height="13" fill="#32cd32"/>
<rect x="632" y="214" width="5" height="7" fill="#32cd32"/>
<rect x="642" y="192" width="1" height="42" fill="#ff0000"/>
<rect x="640" y="195" width="5" height="30" fill="#ff0000"/>
<rect x="641" y="196" width="3" height="28" fill="#ff4500"/>
<rect x="650" y="169" width="1" height="34" fill="#ff0000"/>
<rect x="648" y="175" width="5" height="21" fill="#ff0000"/>
<rect x="649" y="176" width="3" height="19" fill="#ff4500"/>
<rect x="658" y="168" width="1" height="63" fill="#32cd32"/>
<rect x="656" y="174" width="5" height="56" fill="#32cd32"/>
<rect x="666" y="201" width="1" height="31" fill="#ff0000"/>
<rect x="664" y="223" width="5" height="7" fill="#ff0000"/>
<rect x="665" y="224" width="3" height="5" fill="#ff4500"/>
<rect x="674" y="202" width="1" height="31" fill="#ff0000"/>
<rect x="672" y="203" width="5" height="20" fill="#ff0000"/>
<rect x="673" y="204" width="3" height="18" fill="#ff4500"/>
<rect x="682" y="202" width="1" height="10" fill="#32cd32"/>
<rect x="680" y="203" width="5" height="5" fill="#32cd32"/>
<rect x="690" y="181" width="1" height="23" fill="#ff0000"/>
<rect x="688" y="193" width="5" height="9" fill="#ff0000"/>
<rect x="689" y="194" width="3" height="7" fill="#ff4500"/>
<rect x="698" y="183" width="1" height="61" fill="#32cd32"/>
<rect x="696" y="193" width="5" height="46" fill="#32cd32"/>
<rect x="706" y="184" width="1" height="59" fill="#ff0000"/>
<rect x="704" y="186" width="5" height="53" fill="#ff0000"/>
<rect x="705" y="187" width="3" height="51" fill="#ff4500"/>
<rect x="714" y="182" width="1" height="27" fill="#32cd32"/>
<rect x="712" y="186" width="5" height="10" fill="#32cd32"/>
<rect x="722" y="181" width="1" height="32" fill="#32cd32"/>
<rect x="720" y="196" width="5" height="12" fill="#32cd32"/>
<rect x="730" y="203" width="1" height="8" fill="#ff0000"/>
<rect x="728" y="203" width="5" height="5" fill="#ff0000"/>
<rect x="729" y="204" width="3" height="3" fill="#ff4500"/>
<rect x="738" y="184" width="1" height="33" fill="#ff0000"/>
<rect x="736" y="187" width="5" height="16" fill="#ff0000"/>
<rect x="737" y="188" width="3" height="14" fill="#ff4500"/>
<rect x="746" y="164" width="1" height="28" fill="#ff0000"/>
<rect x="744" y="183" width="5" height="5" fill="#ff0000"/>
<rect x="745" y="184" width="3" height="3" fill="#ff4500"/>
<rect x="754" y="158" width="1" height="41" fill="#ff0000"/>
<rect x="752" y="161" width="5" height="22" fill="#ff0000"/>
<rect x="753" y="162" width="3" height="20" fill="#ff4500"/>
<rect x="762" y="146" width="1" height="40" fill="#32cd32"/>
<rect x="760" y="161" width="5" height="24" fill="#32cd32"/>
<rect x="770" y="133" width="1" height="61" fill="#ff0000"/>
<rect x="768" y="145" width="5" height="40" fill="#ff0000"/>
<rect x="769" y="146" width="3" height="38" fill="#ff4500"/>
<rect x="778" y="142" width="1" height="7" fill="#32cd32"/>
<rect x="776" y="145" width="5" height="4" fill="#32cd32"/>
<rect x="786" y="141" width="1" height="15" fill="#ff0000"/>
<rect x="784" y="144" width="5" height="5" fill="#ff0000"/>
<rect x="785" y="145" width="3" height="3" fill="#ff4500"/>
<rect x="794" y="142" width="1" height="33" fill="#32cd32"/>
<rect x="792" y="144" width="5" height="5" fill="#32cd32"/>
<rect x="802" y="122" width="1" height="43" fill="#32cd32"/>
<rect x="800" y="148" width="5" height="6" fill="#32cd32"/>
<rect x="810" y="125" width="1" height="46" fill="#32cd32"/>
<rect x="808" y="153" width="5" height="15" fill="#32cd32"/>
<rect x="818" y="166" width="1" height="12" fill="#32cd32"/>
<rect x="816" y="167" width="5" height="3" fill="#32cd32"/>
<rect x="826" y="166" width="1" height="5" fill="#ff0000"/>
<rect x="824" y="167" width="5" height="4" fill="#ff0000"/>
<rect x="825" y="168" width="3" height="2" fill="#ff4500"/>
<rect x="834" y="165" width="1" height="19" fill="#32cd32"/>
<rect x="832" y="167" width="5" height="13" fill="#32cd32"/>
<rect x="842" y="174" width="1" height="48" fill="#32cd32"/>
<rect x="840" y="179" width="5" height="31" fill="#32cd32"/>
<rect x="850" y="204" width="1" height="64" fill="#32cd32"/>
<rect x="848" y="209" width="5" height="56" fill="#32cd32"/>
<rect x="858" y="264" width="1" height="31" fill="#32cd32"/>
<rect x="856" y="264" width="5" height="15" fill="#32cd32"/>
<rect x="866" y="238" width="1" height="43" fill="#ff0000"/>
<rect x="864" y="250" width="5" height="29" fill="#ff0000"/>
<rect x="865" y="251" width="3" height="27" fill="#ff4500"/>
<rect x="874" y="248" width="1" height="8" fill="#32cd32"/>
<rect x="872" y="250" width="5" height="5" fill="#32cd32"/>
<rect x="882" y="238" width="1" height="17" fill="#ff0000"/>
<rect x="880" y="243" width="5" height="9" fill="#ff0000"/>
<rect x="881" y="244" width="3" height="7" fill="#ff4500"/>
<rect x="890" y="230" width="1" height="31" fill="#32cd32"/>
<rect x="888" y="243" width="5" height="12" fill="#32cd32"/>
<rect x="898" y="238" width="1" height="20" fill="#32cd32"/>
<rect x="896" y="253" width="5" height="3" fill="#32cd32"/>
<rect x="906" y="242" width="1" height="48" fill="#32cd32"/>
<rect x="904" y="255" width="5" height="30" fill="#32cd32"/>
<rect x="914" y="280" width="1" height="16" fill="#32cd32"/>
<rect x="912" y="283" width="5" height="11" fill="#32cd32"/>
</g>
<rect x="652" y="123" width="377" height="6" fill="#f83a3a"/>
<rect x="643" y="233" width="383" height="5" fill="#99cc00"/>
<g shape-rendering="crispEdges">
<rect x="1" y="454" width="3" height="23" fill="#c0c0c0"/>
<rect x="9" y="454" width="3" height="29" fill="#c0c0c0"/>
<rect x="17" y="454" width="3" height="33" fill="#c0c0c0"/>
<rect x="25" y="454" width="3" height="36" fill="#c0c0c0"/>
<rect x="33" y="454" width="3" height="38" fill="#c0c0c0"/>
<rect x="41" y="454" width="3" height="40" fill="#c0c0c0"/>
<rect x="49" y="454" width="3" height="41" fill="#c0c0c0"/>
<rect x="57" y="454" width="3" height="40" fill="#c0c0c0"/>
<rect x="65" y="454" width="3" height="40" fill="#c0c0c0"/>
<rect x="73" y="454" width="3" height="39" fill="#c0c0c0"/>
<rect x="81" y="454" width="3" height="41" fill="#c0c0c0"/>
<rect x="89" y="454" width="3" height="41" fill="#c0c0c0"/>
<rect x="97" y="454" width="3" height="35" fill="#c0c0c0"/>
<rect x="105" y="454" width="3" height="29" fill="#c0c0c0"/>
<rect x="113" y="454" width="3" height="23" fill="#c0c0c0"/>
<rect x="121" y="454" width="3" height="18" fill="#c0c0c0"/>
<rect x="129" y="454" width="3" height="12" fill="#c0c0c0"/>
<rect x="137" y="454" width="3" height="6" fill="#c0c0c0"/>
<rect x="145" y="453" width="3" height="1" fill="#c0c0c0"/>
<rect x="153" y="448" width="3" height="6" fill="#c0c0c0"/>
<rect x="161" y="444" width="3" height="10" fill="#c0c0c0"/>
<rect x="169" y="442" width="3" height="12" fill="#c0c0c0"/>
<rect x="177" y="441" width="3" height="13" fill="#c0c0c0"/>
<rect x="185" y="442" width="3" height="12" fill="#c0c0c0"/>
<rect x="193" y="442" width="3" height="12" fill="#c0c0c0"/>
<rect x="201" y="442" width="3" height="12" fill="#c0c0c0"/>
<rect x="209" y="444" width="3" height="10" fill="#c0c0c0"/>
<rect x="217" y="446" width="3" height="8" fill="#c0c0c0"/>
<rect x="225" y="448" width="3" height="6" fill="#c0c0c0"/>
<rect x="233" y="452" width="3" height="2" fill="#c0c0c0"/>
<rect x="241" y="451" width="3" height="3" fill="#c0c0c0"/>
<rect x="249" y="449" width="3" height="5" fill="#c0c0c0"/>
<rect x="257" y="449" width="3" height="5" fill="#c0c0c0"/>
<rect x="265" y="449" width="3" height="5" fill="#c0c0c0"/>
<rect x="273" y="448" width="3" height="6" fill="#c0c0c0"/>
<rect x="281" y="440" width="3" height="14" fill="#c0c0c0"/>
<rect x="289" y="437" width="3" height="17" fill="#c0c0c0"/>
<rect x="297" y="435" width="3" height="19" fill="#c0c0c0"/>
<rect x="305" y="435" width="3" height="19" fill="#c0c0c0"/>
<rect x="313" y="435" width="3" height="19" fill="#c0c0c0"/>
<rect x="321" y="440" width="3" height="14" fill="#c0c0c0"/>
<rect x="329" y="447" width="3" height="7" fill="#c0c0c0"/>
<rect x="337" y="453" width="3" height="1" fill="#c0c0c0"/>
<rect x="345" y="454" width="3" height="5" fill="#c0c0c0"/>
<rect x="353" y="454" width="3" height="10" fill="#c0c0c0"/>
<rect x="361" y="454" width="3" height="13" fill="#c0c0c0"/>
<rect x="369" y="454" width="3" height="13" fill="#c0c0c0"/>
<rect x="377" y="454" width="3" height="15" fill="#c0c0c0"/>
<rect x="385" y="454" width="3" height="15" fill="#c0c0c0"/>
<rect x="393" y="454" width="3" height="12" fill="#c0c0c0"/>
<rect x="401" y="454" width="3" height="10" fill="#c0c0c0"/>
<rect x="409" y="454" width="3" height="9" fill="#c0c0c0"/>
<rect x="417" y="454" width="3" height="6" fill="#c0c0c0"/>
<rect x="425" y="454" width="3" height="8" fill="#c0c0c0"/>
<rect x="433" y="454" width="3" height="7" fill="#c0c0c0"/>
<rect x="441" y="454" width="3" height="7" fill="#c0c0c0"/>
<rect x="449" y="454" width="3" height="5" fill="#c0c0c0"/>
<rect x="457" y="454" width="3" height="2" fill="#c0c0c0"/>
<rect x="465" y="454" width="3" height="2" fill="#c0c0c0"/>
<rect x="473" y="454" width="3" height="3" fill="#c0c0c0"/>
<rect x="481" y="454" width="3" height="5" fill="#c0c0c0"/>
<rect x="489" y="454" width="3" height="10" fill="#c0c0c0"/>
<rect x="497" y="454" width="3" height="10" fill="#c0c0c0"/>
<rect x="505" y="454" width="3" height="12" fill="#c0c0c0"/>
<rect x="513" y="454" width="3" height="17" fill="#c0c0c0"/>
<rect x="521" y="454" width="3" height="19" fill="#c0c0c0"/>
<rect x="529" y="454" width="3" height="22" fill="#c0c0c0"/>
<rect x="537" y="454" width="3" height="22" fill="#c0c0c0"/>
<rect x="545" y="454" width="3" height="22" fill="#c0c0c0"/>
<rect x="553" y="454" width="3" height="19" fill="#c0c0c0"/>
<rect x="561" y="454" width="3" height="18" fill="#c0c0c0"/>
<rect x="569" y="454" width="3" height="17" fill="#c0c0c0"/>
<rect x="577" y="454" width="3" height="14" fill="#c0c0c0"/>
<rect x="585" y="454" width="3" height="12" fill="#c0c0c0"/>
<rect x="593" y="454" width="3" height="10" fill="#c0c0c0"/>
<rect x="601" y="454" width="3" height="8" fill="#c0c0c0"/>
<rect x="609" y="454" width="3" height="8" fill="#c0c0c0"/>
<rect x="617" y="454" width="3" height="5" fill="#c0c0c0"/>
<rect x="625" y="454" width="3" height="5" fill="#c0c0c0"/>
<rect x="633" y="454" width="3" height="5" fill="#c0c0c0"/>
<rect x="641" y="454" width="3" height="3" fill="#c0c0c0"/>
<rect x="649" y="453" width="3" height="1" fill="#c0c0c0"/>
<rect x="657" y="454" width="3" height="2" fill="#c0c0c0"/>
<rect x="665" y="454" width="3" height="3" fill="#c0c0c0"/>
<rect x="673" y="454" width="3" height="2" fill="#c0c0c0"/>
<rect x="681" y="454" width="3" height="2" fill="#c0c0c0"/>
<rect x="689" y="454" width="3" height="2" fill="#c0c0c0"/>
<rect x="697" y="454" width="3" height="2" fill="#c0c0c0"/>
<rect x="705" y="454" width="3" height="2" fill="#c0c0c0"/>
<rect x="713" y="454" width="3" height="2" fill="#c0c0c0"/>
<rect x="721" y="454" width="3" height="2" fill="#c0c0c0"/>
<rect x="729" y="454" width="3" height="2" fill="#c0c0c0"/>
<rect x="737" y="451" width="3" height="3" fill="#c0c0c0"/>
<rect x="745" y="450" width="3" height="4" fill="#c0c0c0"/>
<rect x="753" y="447" width="3" height="7" fill="#c0c0c0"/>
<rect x="761" y="447" width="3" height="7" fill="#c0c0c0"/>
<rect x="769" y="444" width="3" height="10" fill="#c0c0c0"/>
<rect x="777" y="442" width="3" height="12" fill="#c0c0c0"/>
<rect x="785" y="440" width="3" height="14" fill="#c0c0c0"/>
<rect x="793" y="439" width="3" height="15" fill="#c0c0c0"/>
<rect x="801" y="439" width="3" height="15" fill="#c0c0c0"/>
<rect x="809" y="440" width="3" height="14" fill="#c0c0c0"/>
<rect x="817" y="441" width="3" height="13" fill="#c0c0c0"/>
<rect x="825" y="442" width="3" height="12" fill="#c0c0c0"/>
<rect x="833" y="444" width="3" height="10" fill="#c0c0c0"/>
<rect x="841" y="447" width="3" height="7" fill="#c0c0c0"/>
<rect x="849" y="454" width="3" height="2" fill="#c0c0c0"/>
<rect x="857" y="454" width="3" height="8" fill="#c0c0c0"/>
<rect x="865" y="454" width="3" height="12" fill="#c0c0c0"/>
<rect x="873" y="454" width="3" height="14" fill="#c0c0c0"/>
<rect x="881" y="454" width="3" height="15" fill="#c0c0c0"/>
<rect x="889" y="454" width="3" height="16" fill="#c0c0c0"/>
<rect x="897" y="454" width="3" height="17" fill="#c0c0c0"/>
<rect x="905" y="454" width="3" height="20" fill="#c0c0c0"/>
<rect x="913" y="454" width="3" height="23" fill="#c0c0c0"/>
</g>
<path d="M2 464.5h2M4 465.5h3M7 466.5h2M9 467.5h2M11 467.5h1M12 468.5h3M15 469.5h2M17 470.5h2M19 470.5h1M20 471.5h3M23 472.5h2M25 473.5h2M27 473.5h1M28 474.5h2M30 475.5h2M32 476.5h2M34 477.5h1M35 477.5h1M36 478.5h3M39 479.5h2M41 480.5h2M43 480.5h1M44 481.5h3M47 482.5h2M49 483.5h2M51 483.5h1M52 484.5h3M55 485.5h2M57 486.5h2M59 486.5h1M60 487.5h3M63 488.5h2M65 489.5h2M67 489.5h4M71 490.5h4M75 490.5h2M77 491.5h4M81 492.5h2M83 492.5h4M87 493.5h4M91 493.5h8M103 492.5h4M99 493.5h4M113 489.5h2M111 490.5h2M108 491.5h3M107 492.5h1M121 486.5h2M119 487.5h2M116 488.5h3M115 489.5h1M129 483.5h2M127 484.5h2M124 485.5h3M123 486.5h1M137 480.5h2M135 481.5h2M132 482.5h3M131 483.5h1M146 475.5h1M144 476.5h2M143 477.5h1M141 478.5h2M139 479.5h2M154 470.5h1M152 471.5h2M151 472.5h1M149 473.5h2M147 474.5h2M162 465.5h1M160 466.5h2M159 467.5h1M157 468.5h2M155 469.5h2M170 460.5h1M168 461.5h2M167 462.5h1M165 463.5h2M163 464.5h2M178 455.5h1M176 456.5h2M175 457.5h1M173 458.5h2M171 459.5h2M185 452.5h2M183 453.5h2M180 454.5h3M179 455.5h1M194 448.5h1M192 449.5h2M190 450.5h2M188 451.5h2M187 452.5h1M201 445.5h2M199 446.5h2M196 447.5h3M195 448.5h1M207 444.5h4M203 445.5h4M211 444.5h8M219 444.5h8M227 444.5h8M235 444.5h4M239 445.5h4M243 445.5h4M247 446.5h4M251 446.5h4M255 447.5h4M259 447.5h4M263 448.5h4M267 448.5h4M271 449.5h4M279 448.5h4M275 449.5h4M287 447.5h4M283 448.5h4M295 446.5h4M291 447.5h4M305 444.5h2M301 445.5h4M299 446.5h2M313 442.5h2M309 443.5h4M307 444.5h2M319 441.5h4M315 442.5h4M323 441.5h8M331 441.5h8M339 441.5h4M343 442.5h4M347 442.5h1M348 443.5h3M351 444.5h2M353 445.5h2M355 445.5h1M356 446.5h3M359 447.5h2M361 448.5h2M363 448.5h1M364 449.5h3M367 450.5h2M369 451.5h2M371 451.5h1M372 452.5h2M374 453.5h2M376 454.5h2M378 455.5h1M379 455.5h1M380 456.5h3M383 457.5h2M385 458.5h2M387 458.5h1M388 459.5h3M391 460.5h2M393 461.5h2M395 461.5h2M397 462.5h4M401 463.5h2M403 463.5h4M407 464.5h4M411 464.5h8M419 464.5h8M431 463.5h4M427 464.5h4M435 463.5h8M449 461.5h2M445 462.5h4M443 463.5h2M455 460.5h4M451 461.5h4M465 458.5h2M461 459.5h4M459 460.5h2M467 458.5h8M475 458.5h8M483 458.5h8M491 458.5h8M499 458.5h4M503 459.5h4M507 459.5h4M511 460.5h4M515 460.5h2M517 461.5h4M521 462.5h2M523 462.5h2M525 463.5h4M529 464.5h2M531 464.5h2M533 465.5h4M537 466.5h2M539 466.5h2M541 467.5h4M545 468.5h2M547 468.5h2M549 469.5h4M553 470.5h2M555 470.5h8M563 470.5h4M567 471.5h4M571 471.5h8M579 471.5h8M593 469.5h2M589 470.5h4M587 471.5h2M599 468.5h4M595 469.5h4M609 466.5h2M605 467.5h4M603 468.5h2M615 465.5h4M611 466.5h4M625 463.5h2M621 464.5h4M619 465.5h2M633 461.5h2M629 462.5h4M627 463.5h2M639 460.5h4M635 461.5h4M649 458.5h2M645 459.5h4M643 460.5h2M655 457.5h4M651 458.5h4M659 457.5h8M671 456.5h4M667 457.5h4M675 456.5h8M687 455.5h4M683 456.5h4M691 455.5h8M699 455.5h8M711 454.5h4M707 455.5h4M715 454.5h8M723 454.5h8M735 453.5h4M731 454.5h4M739 453.5h8M751 452.5h4M747 453.5h4M761 450.5h2M757 451.5h4M755 452.5h2M763 450.5h8M777 448.5h2M773 449.5h4M771 450.5h2M783 447.5h4M779 448.5h4M793 445.5h2M789 446.5h4M787 447.5h2M799 444.5h4M795 445.5h4M807 443.5h4M803 444.5h4M815 442.5h4M811 443.5h4M823 441.5h4M819 442.5h4M827 441.5h8M835 441.5h4M839 442.5h4M843 442.5h4M847 443.5h4M851 443.5h2M853 444.5h4M857 445.5h2M859 445.5h1M860 446.5h3M863 447.5h2M865 448.5h2M867 448.5h1M868 449.5h3M871 450.5h2M873 451.5h2M875 451.5h1M876 452.5h3M879 453.5h2M881 454.5h2M883 454.5h1M884 455.5h3M887 456.5h2M889 457.5h2M891 457.5h1M892 458.5h2M894 459.5h2M896 460.5h2M898 461.5h1M899 461.5h1M900 462.5h3M903 463.5h2M905 464.5h2M907 464.5h1M908 465.5h3M911 466.5h2M913 467.5h2" fill="none" stroke="#ff0000" stroke-width="1" shape-rendering="crispEdges"/>
<line x1="2" y1="526.5" x2="1164" y2="526.5" stroke="#c0c0c0" stroke-width="1" stroke-dasharray="3,3"/>
<line x1="2" y1="559.5" x2="1164" y2="559.5" stroke="#c0c0c0" stroke-width="1" stroke-dasharray="3,3"/>
<path d="M2 558.5h2M4 559.5h3M7 560.5h2M9 561.5h2M15 560.5h4M11 561.5h4M19 560.5h4M23 561.5h4M33 558.5h2M31 559.5h2M28 560.5h3M27 561.5h1M35 558.5h2M37 559.5h4M41 560.5h2M49 558.5h2M45 559.5h4M43 560.5h2M57 556.5h2M53 557.5h4M51 558.5h2M59 556.5h4M63 557.5h4M67 557.5h8M75 557.5h1M76 558.5h2M78 559.5h2M80 560.5h2M82 561.5h1M83 561.5h8M90.5 560v1M91.5 558v2M92.5 556v2M93.5 553v3M94.5 551v2M95.5 548v3M96.5 546v2M97.5 544v2M98.5 542v2M103 541.5h4M99 542.5h4M113 539.5h2M109 540.5h4M107 541.5h2M115 539.5h4M119 540.5h4M130 536.5h1M128 537.5h2M126 538.5h2M124 539.5h2M123 540.5h1M137 533.5h2M135 534.5h2M132 535.5h3M131 536.5h1M143 532.5h4M139 533.5h4M147 532.5h8M155 532.5h8M163 532.5h8M171 533.5h2M173 534.5h2M175 535.5h1M176 536.5h2M178 537.5h1M179 537.5h1M180 538.5h3M183 539.5h2M185 540.5h2M193 537.5h2M191 538.5h2M188 539.5h3M187 540.5h1M195 537.5h1M196 538.5h3M199 539.5h2M201 540.5h2M203 540.5h2M205 541.5h4M209 542.5h2M211 542.5h1M212 543.5h3M215 544.5h2M217 545.5h2M219 545.5h8M227 545.5h1M228 546.5h2M230 547.5h2M232 548.5h2M234 549.5h1M235.5 548v1M236.5 546v2M237.5 545v1M238.5 544v1M239.5 543v1M240.5 541v2M241.5 540v1M242.5 539v1M247 538.5h4M243 539.5h4M251 538.5h2M253 539.5h4M257 540.5h2M259 540.5h2M261 541.5h4M265 542.5h2M274 537.5h1M272 538.5h2M271 539.5h1M269 540.5h2M267 541.5h2M275.5 536v1M276.5 535v1M277.5 534v1M278.5 532v2M279.5 531v1M280.5 530v1M281.5 529v1M282.5 528v1M283 528.5h1M284 529.5h2M286 530.5h2M288 531.5h2M290 532.5h1M291 532.5h2M293 533.5h4M297 534.5h2M299 534.5h1M300 535.5h2M302 536.5h2M304 537.5h2M306 538.5h1M313 536.5h2M309 537.5h4M307 538.5h2M315.5 537v2M316.5 539v1M317.5 540v1M318.5 541v2M319.5 543v1M320.5 544v1M321.5 545v2M322.5 547v1M323 547.5h2M325 548.5h4M329 549.5h2M331 549.5h2M333 550.5h4M337 551.5h2M339 551.5h8M347 551.5h2M349 552.5h4M353 553.5h2M361 550.5h2M359 551.5h2M356 552.5h3M355 553.5h1M369 547.5h2M367 548.5h2M364 549.5h3M363 550.5h1M371 547.5h4M375 548.5h4M385 545.5h2M383 546.5h2M380 547.5h3M379 548.5h1M393 543.5h2M389 544.5h4M387 545.5h2M395 543.5h8M403 543.5h8M418 538.5h1M416 539.5h2M415 540.5h1M413 541.5h2M411 542.5h2M419.5 539v1M420.5 540v2M421.5 542v1M422.5 543v1M423.5 544v1M424.5 545v2M425.5 547v1M426.5 548v1M434 543.5h1M432 544.5h2M431 545.5h1M429 546.5h2M427 547.5h2M435 543.5h8M450 539.5h1M448 540.5h2M446 541.5h2M444 542.5h2M443 543.5h1M451 539.5h8M459 539.5h1M460 540.5h2M462 541.5h2M464 542.5h2M466 543.5h1M467 543.5h1M468 544.5h3M471 545.5h2M473 546.5h2M475 546.5h2M477 547.5h4M481 548.5h2M483 548.5h2M485 549.5h4M489 550.5h2M497 548.5h2M493 549.5h4M491 550.5h2M499 548.5h2M501 549.5h4M505 550.5h2M507 550.5h1M508 551.5h2M510 552.5h2M512 553.5h2M514 554.5h1M519 553.5h4M515 554.5h4M527 552.5h4M523 553.5h4M537 550.5h2M533 551.5h4M531 552.5h2M545 548.5h2M541 549.5h4M539 550.5h2M553 545.5h2M551 546.5h2M548 547.5h3M547 548.5h1M559 544.5h4M555 545.5h4M563 544.5h1M564 545.5h2M566 546.5h2M568 547.5h2M570 548.5h1M578 543.5h1M576 544.5h2M575 545.5h1M573 546.5h2M571 547.5h2M579 543.5h8M591 542.5h4M587 543.5h4M599 541.5h4M595 542.5h4M603 541.5h1M604 542.5h3M607 543.5h2M609 544.5h2M618 540.5h1M616 541.5h2M614 542.5h2M612 543.5h2M611 544.5h1M619 540.5h1M620 541.5h3M623 542.5h2M625 543.5h2M627 543.5h2M629 544.5h4M633 545.5h2M642 539.5h1M641 540.5h1M639 541.5h2M638 542.5h1M637 543.5h1M635 544.5h2M649 536.5h2M647 537.5h2M644 538.5h3M643 539.5h1M651.5 537v1M652.5 538v2M653.5 540v1M654.5 541v1M655.5 542v1M656.5 543v2M657.5 545v1M658.5 546v1M663 545.5h4M659 546.5h4M674 541.5h1M672 542.5h2M670 543.5h2M668 544.5h2M667 545.5h1M675 541.5h4M679 542.5h4M689 540.5h2M685 541.5h4M683 542.5h2M691 541.5h1M692 542.5h1M693 543.5h1M694 544.5h1M695 545.5h1M696 546.5h1M697 547.5h1M698 548.5h1M699.5 547v1M700.5 546v1M701.5 545v1M702.5 543v2M703.5 542v1M704.5 541v1M705.5 540v1M706.5 539v1M707 539.5h2M709 540.5h4M713 541.5h2M715 541.5h4M719 542.5h4M723 542.5h8M737 539.5h2M735 540.5h2M732 541.5h3M731 542.5h1M743 538.5h4M739 539.5h4M753 535.5h2M751 536.5h2M748 537.5h3M747 538.5h1M755 536.5h2M757 537.5h2M759 538.5h1M760 539.5h2M762 540.5h1M770 534.5h1M769 535.5h1M767 536.5h2M766 537.5h1M765 538.5h1M763 539.5h2M771 534.5h4M775 535.5h4M783 534.5h4M779 535.5h4M787 534.5h4M791 535.5h4M795 535.5h4M799 536.5h4M803 536.5h1M804 537.5h3M807 538.5h2M809 539.5h2M811 539.5h4M815 540.5h4M823 539.5h4M819 540.5h4M827 539.5h1M828 540.5h3M831 541.5h2M833 542.5h2M835 543.5h2M837 544.5h1M838 545.5h1M839 546.5h2M841 547.5h1M842 548.5h1M843 549.5h1M844 550.5h1M845 551.5h1M846 552.5h1M847 553.5h1M848 554.5h1M849 555.5h1M850 556.5h1M851 556.5h2M853 557.5h4M857 558.5h2M866 552.5h1M865 553.5h1M863 554.5h2M862 555.5h1M861 556.5h1M859 557.5h2M871 551.5h4M867 552.5h4M879 550.5h4M875 551.5h4M883 550.5h8M891 550.5h2M893 551.5h4M897 552.5h2M899 552.5h1M900 553.5h2M902 554.5h2M904 555.5h2M906 556.5h1M907 556.5h4M911 557.5h4" fill="none" stroke="#1e90ff" stroke-width="1" shape-rendering="crispEdges"/>
<rect x="0" y="29" width="1" height="558" fill="#fff"/>
<g fill="none" stroke="#000" stroke-width="1" shape-rendering="crispEdges">
<path d="M1.5,31.5 H1164.5 V584.5 H1.5 Z"/>
<path d="M1.5,428.5 H1164.5 M1.5,430.5 H1164.5 M1.5,498.5 H1164.5 M1.5,500.5 H1164.5"/>
</g>
<rect x="2" y="429" width="1166" height="1" fill="#fff"/><rect x="2" y="499" width="1166" height="1" fill="#fff"/>
<rect x="1165" y="429" width="4" height="1" fill="#fff"/>
<g shape-rendering="crispEdges" fill="#000">
<rect x="1165" y="62" width="2" height="1"/>
<rect x="1165" y="95" width="2" height="1"/>
<rect x="1165" y="128" width="2" height="1"/>
<rect x="1165" y="161" width="2" height="1"/>
<rect x="1165" y="194" width="2" height="1"/>
<rect x="1165" y="227" width="2" height="1"/>
<rect x="1165" y="260" width="2" height="1"/>
<rect x="1165" y="326" width="2" height="1"/>
<rect x="1165" y="359" width="2" height="1"/>
<rect x="1165" y="392" width="2" height="1"/>
<rect x="1165" y="425" width="2" height="1"/>
<rect x="1165" y="454" width="2" height="1"/>
<rect x="2" y="585" width="1" height="3"/>
<rect x="66" y="585" width="1" height="3"/>
<rect x="130" y="585" width="1" height="3"/>
<rect x="194" y="585" width="1" height="3"/>
<rect x="258" y="585" width="1" height="3"/>
<rect x="322" y="585" width="1" height="3"/>
<rect x="386" y="585" width="1" height="3"/>
<rect x="450" y="585" width="1" height="3"/>
<rect x="514" y="585" width="1" height="3"/>
<rect x="578" y="585" width="1" height="3"/>
<rect x="642" y="585" width="1" height="3"/>
<rect x="706" y="585" width="1" height="3"/>
<rect x="770" y="585" width="1" height="3"/>
<rect x="834" y="585" width="1" height="3"/>
<rect x="898" y="585" width="1" height="3"/>
</g>
<text class="ax" x="1169.8" y="66.3" textLength="33.4" lengthAdjust="spacingAndGlyphs">0.72810</text>
<text class="ax" x="1169.8" y="99.3" textLength="33.4" lengthAdjust="spacingAndGlyphs">0.72390</text>
<text class="ax" x="1169.8" y="132.3" textLength="33.4" lengthAdjust="spacingAndGlyphs">0.71970</text>
<text class="ax" x="1169.8" y="165.3" textLength="33.4" lengthAdjust="spacingAndGlyphs">0.71560</text>
<text class="ax" x="1169.8" y="198.3" textLength="33.4" lengthAdjust="spacingAndGlyphs">0.71140</text>
<text class="ax" x="1169.8" y="231.3" textLength="33.4" lengthAdjust="spacingAndGlyphs">0.70720</text>
<text class="ax" x="1169.8" y="264.3" textLength="33.4" lengthAdjust="spacingAndGlyphs">0.70300</text>
<text class="ax" x="1169.8" y="330.3" textLength="33.4" lengthAdjust="spacingAndGlyphs">0.69470</text>
<text class="ax" x="1169.8" y="363.3" textLength="33.4" lengthAdjust="spacingAndGlyphs">0.69050</text>
<text class="ax" x="1169.8" y="396.3" textLength="33.4" lengthAdjust="spacingAndGlyphs">0.68640</text>
<text class="ax" x="1169.8" y="429.3" textLength="33.4" lengthAdjust="spacingAndGlyphs">0.68220</text>
<rect x="1166" y="288" width="41" height="11" fill="#000"/><rect x="1165" y="293" width="1" height="1" fill="#000"/>
<text class="ax" x="1169.8" y="297.4" style="fill:#fff;stroke:#fff" textLength="33.4" lengthAdjust="spacingAndGlyphs">0.69884</text>
<text class="ax" x="1168.3" y="441.6" textLength="38.4" lengthAdjust="spacingAndGlyphs">0.002957</text>
<text class="ax" x="1168.3" y="458.5" textLength="18.4" lengthAdjust="spacingAndGlyphs">0.00</text>
<text class="ax" x="1168.3" y="496.1" textLength="41.9" lengthAdjust="spacingAndGlyphs">-0.005825</text>
<text class="ax" x="1168.3" y="511.4" textLength="15.4" lengthAdjust="spacingAndGlyphs">100</text>
<text class="ax" x="1167.3" y="530.8" textLength="10.4" lengthAdjust="spacingAndGlyphs">70</text>
<text class="ax" x="1167.3" y="563.5" textLength="10.4" lengthAdjust="spacingAndGlyphs">30</text>
<text class="ax" x="1168.3" y="580.9" textLength="5.4" lengthAdjust="spacingAndGlyphs">0</text>
<text class="ax" x="1.4" y="597" textLength="51.4" lengthAdjust="spacingAndGlyphs">21 Dec 2018</text>
<text class="ax" x="65.4" y="597" textLength="51.4" lengthAdjust="spacingAndGlyphs">31 Dec 2018</text>
<text class="ax" x="129.4" y="597" textLength="45.4" lengthAdjust="spacingAndGlyphs">9 Jan 2019</text>
<text class="ax" x="193.4" y="597" textLength="50.4" lengthAdjust="spacingAndGlyphs">18 Jan 2019</text>
<text class="ax" x="257.4" y="597" textLength="50.4" lengthAdjust="spacingAndGlyphs">28 Jan 2019</text>
<text class="ax" x="321.4" y="597" textLength="46.4" lengthAdjust="spacingAndGlyphs">6 Feb 2019</text>
<text class="ax" x="385.4" y="597" textLength="51.4" lengthAdjust="spacingAndGlyphs">15 Feb 2019</text>
<text class="ax" x="449.4" y="597" textLength="51.4" lengthAdjust="spacingAndGlyphs">25 Feb 2019</text>
<text class="ax" x="513.4" y="597" textLength="46.4" lengthAdjust="spacingAndGlyphs">6 Mar 2019</text>
<text class="ax" x="577.4" y="597" textLength="51.4" lengthAdjust="spacingAndGlyphs">15 Mar 2019</text>
<text class="ax" x="641.4" y="597" textLength="51.4" lengthAdjust="spacingAndGlyphs">25 Mar 2019</text>
<text class="ax" x="705.4" y="597" textLength="45.4" lengthAdjust="spacingAndGlyphs">3 Apr 2019</text>
<text class="ax" x="769.4" y="597" textLength="50.4" lengthAdjust="spacingAndGlyphs">12 Apr 2019</text>
<text class="ax" x="833.4" y="597" textLength="50.4" lengthAdjust="spacingAndGlyphs">22 Apr 2019</text>
<text class="ax" x="897.4" y="597" textLength="47.4" lengthAdjust="spacingAndGlyphs">1 May 2019</text>
<path d="M5,42 L8.4,38 L11.8,42 Z" fill="#000"/>
<text x="17.6" y="43.2" style="font-size:9.9px;stroke:#000;stroke-width:0.15px" textLength="64.8" lengthAdjust="spacingAndGlyphs">AUDUSD,Daily</text>
<text x="89" y="43.2" style="font-size:9.9px;stroke:#000;stroke-width:0.15px" textLength="141" lengthAdjust="spacingAndGlyphs">0.70011 0.70056 0.69837 0.69884</text>
<text class="ax" x="6.3" y="443.8" textLength="153.4" lengthAdjust="spacingAndGlyphs">MACD(12,26,9) -0.002946 -0.001775</text>
<text class="ax" x="6.3" y="513.4" textLength="67.8" lengthAdjust="spacingAndGlyphs">RSI(14) 32.4418</text>
<defs>
<linearGradient id="gb" x1="0" y1="0" x2="0" y2="1"><stop offset="0" stop-color="#5a5afa"/><stop offset="1" stop-color="#3232dc"/></linearGradient>
<linearGradient id="gp" x1="0" y1="0" x2="0" y2="1"><stop offset="0" stop-color="#3434de"/><stop offset="0.55" stop-color="#1010c8"/><stop offset="1" stop-color="#00009c"/></linearGradient>
<linearGradient id="gg" x1="0" y1="0" x2="0" y2="1"><stop offset="0" stop-color="#f2f2f2"/><stop offset="1" stop-color="#c4c4c4"/></linearGradient>
</defs>
<rect x="3" y="49" width="223" height="68" fill="#fff"/>
<rect x="5" y="51" width="52" height="25" fill="url(#gb)"/>
<rect x="172" y="51" width="52" height="25" fill="url(#gb)"/>
<rect x="5" y="75" width="109" height="40" fill="url(#gp)"/>
<rect x="116" y="75" width="108" height="40" fill="url(#gp)"/>
<rect x="9" y="75" width="44" height="1" fill="#1c1c9c"/><rect x="176" y="75" width="44" height="1" fill="#1c1c9c"/>
<rect x="9" y="74" width="44" height="1" fill="#6a6af0"/><rect x="176" y="74" width="44" height="1" fill="#6a6af0"/>
<rect x="59.5" y="52" width="110" height="20.5" fill="#fff" stroke="#b5b5b5" stroke-width="1"/>
<rect x="60.5" y="53" width="19" height="18.5" fill="url(#gg)" stroke="#bdbdbd" stroke-width="0.8"/>
<rect x="149.5" y="53" width="19" height="18.5" fill="url(#gg)" stroke="#bdbdbd" stroke-width="0.8"/>
<path d="M67,60.6 L72.2,60.6 L69.6,63.4 Z" fill="#4f5fa8"/>
<path d="M156,63.4 L161.2,63.4 L158.6,60.6 Z" fill="#4f5fa8"/>
<text x="121.6" y="66.2" style="font-size:12.5px;fill:#000" textLength="23.2" lengthAdjust="spacingAndGlyphs">5.00</text>
<text x="17.3" y="67.3" style="font-size:12.2px;fill:#fff" textLength="25.6" lengthAdjust="spacingAndGlyphs">SELL</text>
<text x="186.3" y="67.3" style="font-size:12.2px;fill:#fff" textLength="23" lengthAdjust="spacingAndGlyphs">BUY</text>
<text x="25.1" y="105.7" style="font-size:12.4px;font-weight:bold;fill:#fff" textLength="23.4" lengthAdjust="spacingAndGlyphs">0.69</text>
<text x="52.2" y="105.8" style="font-size:34px;fill:#fff" textLength="35.8" lengthAdjust="spacingAndGlyphs">88</text>
<text x="92" y="90.3" style="font-size:11.6px;font-weight:bold;fill:#fff">4</text>
<text x="135.2" y="105.7" style="font-size:12.4px;font-weight:bold;fill:#fff" textLength="23.4" lengthAdjust="spacingAndGlyphs">0.69</text>
<text x="162.4" y="105.8" style="font-size:34px;fill:#fff" textLength="35.8" lengthAdjust="spacingAndGlyphs">90</text>
<text x="203" y="90.3" style="font-size:11.6px;font-weight:bold;fill:#fff">4</text>
<rect x="0" y="605" width="1208" height="1" fill="#ececec"/>
<rect x="0" y="606" width="1208" height="1" fill="#dcdcdc"/><rect x="0" y="607" width="1208" height="20" fill="#f0f0f0"/>
<rect x="0" y="627" width="1208" height="4" fill="#f7f7f7"/>
<rect x="0" y="607" width="1208" height="1" fill="#111"/>
<rect x="108" y="606" width="102" height="19" fill="#fff"/>
<g shape-rendering="crispEdges" fill="#000"><rect x="107" y="607" width="1" height="19"/><rect x="107" y="625" width="104" height="1"/><rect x="210" y="607" width="1" height="19"/></g>
<text class="tab" x="15.5" y="622" textLength="79.5" lengthAdjust="spacingAndGlyphs">EURUSD,Daily</text>
<text class="tab" x="221" y="622" textLength="78.7" lengthAdjust="spacingAndGlyphs">USDCHF,Daily</text>
<text class="tab" x="322" y="622" textLength="81" lengthAdjust="spacingAndGlyphs">USDCAD,Daily</text>
<text class="tab" x="425.8" y="622" textLength="81.8" lengthAdjust="spacingAndGlyphs">USDCNH,Daily</text>
<text class="tab" x="530" y="622" textLength="68.7" lengthAdjust="spacingAndGlyphs">XAUUSD,H4</text>
<text class="tab" x="621" y="622" textLength="46.5" lengthAdjust="spacingAndGlyphs">DJ30,H4</text>
<text class="tab" x="691.4" y="622" textLength="59" lengthAdjust="spacingAndGlyphs">USDOil,H1</text>
<text class="tab" x="773.5" y="622" textLength="66.4" lengthAdjust="spacingAndGlyphs">USDCHF,H1</text>
<text x="118.6" y="622" style="font-size:12.6px;fill:#000" textLength="81" lengthAdjust="spacingAndGlyphs">AUDUSD,Daily</text>
<rect x="310.5" y="611" width="1" height="14" fill="#7a7a7a"/>
<rect x="415.0" y="611" width="1" height="14" fill="#7a7a7a"/>
<rect x="518.5" y="611" width="1" height="14" fill="#7a7a7a"/>
<rect x="610.5" y="611" width="1" height="14" fill="#7a7a7a"/>
<rect x="679.0" y="611" width="1" height="14" fill="#7a7a7a"/>
<rect x="762.5" y="611" width="1" height="14" fill="#7a7a7a"/>
<rect x="850.5" y="611" width="1" height="14" fill="#7a7a7a"/>
<path d="M1183,613 L1183,619 L1179.3,616 Z" fill="#8c8c8c"/>
<path d="M1198.6,613 L1198.6,619 L1202.3,616 Z" fill="#8c8c8c"/>
</svg></body></html>
